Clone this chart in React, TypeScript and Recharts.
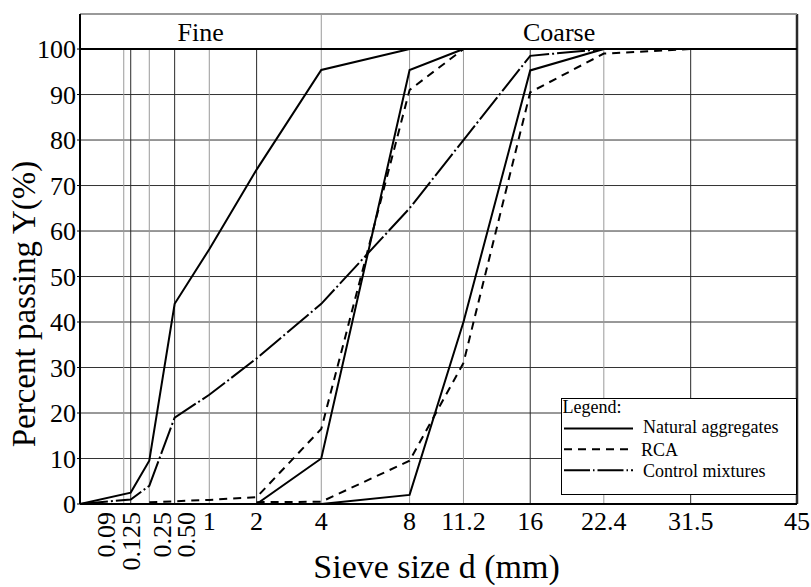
import React from 'react';
import {
  LineChart,
  Line,
  XAxis,
  YAxis,
  CartesianGrid,
  ReferenceLine,
  ReferenceArea,
  Legend,
  Label,
} from 'recharts';

// ---------- data ----------
const sieveSizes = [0.09, 0.125, 0.25, 0.5, 1, 2, 4, 8, 11.2, 16, 22.4, 31.5, 45];
const sieveLabels = ['0.09', '0.125', '0.25', '0.50', '1', '2', '4', '8', '11.2', '16', '22.4', '31.5', '45'];
const percentTicks = [0, 10, 20, 30, 40, 50, 60, 70, 80, 90, 100];

// Natural aggregates (solid)
const naturalSandSizes = [0, 0.125, 0.25, 0.5, 1, 2, 4, 8, 45];
const naturalSandPassing = [0, 2.5, 9.5, 44, 56, 73.5, 95.4, 100, 100];
const natural48Sizes = [0.25, 0.5, 1, 2, 4, 8, 11.2];
const natural48Passing = [0, 0, 0, 0, 10, 95.4, 100];
const natural816Sizes = [4, 8, 11.2, 16, 22.4];
const natural816Passing = [0, 2, 40, 95.3, 100];
const naturalBaseSizes = [0.25, 11.2];
const naturalBasePassing = [0, 0];

// RCA (dashed)
const rca48Sizes = [0.25, 0.5, 1, 2, 4, 8, 11.2];
const rca48Passing = [0.4, 0.6, 0.9, 1.5, 16.5, 91, 100];
const rca816Sizes = [2, 4, 8, 11.2, 16, 22.4, 31.5];
const rca816Passing = [0.4, 0.5, 9.5, 31, 90.5, 99, 100];

// Control mixtures (dash-dot)
const controlSizes = [0, 0.125, 0.25, 0.5, 1, 2, 4, 8, 11.2, 16, 22.4, 45];
const controlPassing = [0, 1, 4, 19, 24, 32, 44, 65, 80, 98.5, 100, 100];

const legendItems = ['Natural aggregates', 'RCA', 'Control mixtures'];
const zoneLabels = ['Fine', 'Coarse'];

// ---------- scale helpers ----------
const EXPONENT = 0.45; // grading chart axis: d^0.45
const toX = (d: number) => Math.pow(d, EXPONENT);
const X_MAX = toX(45);
const Y_TOP = 107.7;

const build = (sizes: number[], values: number[]) =>
  sizes.map((d, i) => ({ x: toX(d), y: values[i] }));

const naturalSand = build(naturalSandSizes, naturalSandPassing);
const natural48 = build(natural48Sizes, natural48Passing);
const natural816 = build(natural816Sizes, natural816Passing);
const naturalBase = build(naturalBaseSizes, naturalBasePassing);
const rca48 = build(rca48Sizes, rca48Passing);
const rca816 = build(rca816Sizes, rca816Passing);
const control = build(controlSizes, controlPassing);

const xTicks = sieveSizes.map(toX);

// ---------- styles ----------
const FONT = '"Liberation Serif", "Times New Roman", serif';
const GRAY = '#9a9a9a';
const DARK = '#2a2a2a';
const gridShade = [GRAY, DARK, GRAY, DARK, GRAY, DARK, GRAY, GRAY, GRAY, DARK, GRAY, DARK, DARK];
const rotatedDx = [-17, 1, 13, 12];
const DASH = '8 6';
const DASH_DOT = '28 3 2 3';

const SieveTick = (props: any) => {
  const { x, y, index } = props;
  const label = sieveLabels[index] ?? '';
  const size = sieveSizes[index];
  if (size < 1) {
    return (
      <text
        transform={`translate(${x + (rotatedDx[index] ?? 0)},${y}) rotate(-90)`}
        textAnchor="end"
        dominantBaseline="central"
        fontSize={26}
        fill="#000"
        fontFamily={FONT}
      >
        {label}
      </text>
    );
  }
  return (
    <text x={x} y={y} dy="0.71em" textAnchor="middle" fontSize={26} fill="#000" fontFamily={FONT}>
      {label}
    </text>
  );
};

const LegendBox = () => (
  <svg width={237} height={98} style={{ display: 'block', overflow: 'visible' }}>
    <rect x={0.5} y={0.5} width={235} height={96} fill="#fff" stroke="#000" strokeWidth={1} />
    <text x={1.5} y={15} fontSize={18} fontFamily={FONT} fill="#000">
      Legend:
    </text>
    <line x1={3} x2={72} y1={30.6} y2={30.6} stroke="#000" strokeWidth={2} />
    <text x={82} y={34.6} fontSize={18} fontFamily={FONT} fill="#000">
      {legendItems[0]}
    </text>
    <line x1={3} x2={72} y1={51.3} y2={51.3} stroke="#000" strokeWidth={2} strokeDasharray={DASH} />
    <text x={80} y={58} fontSize={18} fontFamily={FONT} fill="#000">
      {legendItems[1]}
    </text>
    <line x1={3} x2={72} y1={72.3} y2={72.3} stroke="#000" strokeWidth={2} strokeDasharray="26 3 1.5 3" />
    <text x={82} y={79} fontSize={18} fontFamily={FONT} fill="#000">
      {legendItems[2]}
    </text>
  </svg>
);

const YTitle = (props: any) => {
  const vb = props.viewBox || { x: 20, y: 14, width: 60, height: 490 };
  const cx = vb.x + 15;
  const cy = vb.y + 290;
  return (
    <text
      transform={`translate(${cx},${cy}) rotate(-90)`}
      textAnchor="middle"
      fontSize={33}
      fill="#000"
      fontFamily={FONT}
    >
      Percent passing Y(%)
    </text>
  );
};

const XTitle = (props: any) => {
  const vb = props.viewBox || { x: 80, y: 504, width: 717, height: 83 };
  return (
    <text
      x={vb.x + vb.width / 2 - 2}
      y={vb.y + 74}
      textAnchor="middle"
      fontSize={34}
      fill="#000"
      fontFamily={FONT}
    >
      Sieve size d (mm)
    </text>
  );
};

const lineCommon = {
  dataKey: 'y',
  type: 'linear' as const,
  stroke: '#000',
  strokeWidth: 2,
  dot: false,
  activeDot: false,
  isAnimationActive: false,
  legendType: 'none' as const,
};

export default function App() {
  return (
    <div style={{ position: 'absolute', left: 0, top: 0, width: 811, height: 587, background: '#fff', fontFamily: FONT }}>
      <LineChart width={811} height={587} margin={{ top: 14, right: 14, bottom: 0, left: 20 }}>
        <CartesianGrid vertical={false} stroke="#333" strokeWidth={1} />
        <XAxis
          type="number"
          dataKey="x"
          domain={[0, X_MAX]}
          ticks={xTicks}
          interval={0}
          height={83}
          tick={<SieveTick />}
          tickLine={false}
          tickSize={6}
          tickMargin={2}
          axisLine={{ stroke: '#000', strokeWidth: 2 }}
          allowDataOverflow
        >
          <Label content={<XTitle />} />
        </XAxis>
        <YAxis
          type="number"
          domain={[0, Y_TOP]}
          ticks={percentTicks}
          interval={0}
          width={60}
          tickSize={3}
          tickMargin={1}
          tick={{ fontSize: 26, fill: '#000', fontFamily: FONT }}
          tickLine={{ stroke: '#000' }}
          axisLine={{ stroke: '#000', strokeWidth: 2 }}
          allowDataOverflow
        >
          <Label content={<YTitle />} />
        </YAxis>

        {/* header band: Fine / Coarse */}
        <ReferenceArea
          x1={0}
          x2={toX(4)}
          y1={100}
          y2={Y_TOP}
          fill="none"
          strokeOpacity={0}
          label={{ value: zoneLabels[0], position: 'center', fontSize: 26, fill: '#000', fontFamily: FONT }}
        />
        <ReferenceArea
          x1={toX(4)}
          x2={X_MAX}
          y1={100}
          y2={Y_TOP}
          fill="none"
          strokeOpacity={0}
          label={{ value: zoneLabels[1], position: 'center', fontSize: 26, fill: '#000', fontFamily: FONT }}
        />

        {/* vertical grid lines */}
        {sieveSizes.map((d, i) => {
          const full = d === 4 || d === 45;
          return (
            <ReferenceLine
              key={`g${i}`}
              segment={[
                { x: toX(d), y: 0 },
                { x: toX(d), y: full ? Y_TOP : 100 },
              ]}
              stroke={d === 45 ? DARK : gridShade[i]}
              strokeWidth={d === 45 ? 2.5 : 1}
            />
          );
        })}
        <ReferenceLine
          segment={[
            { x: 0, y: Y_TOP },
            { x: X_MAX, y: Y_TOP },
          ]}
          stroke={GRAY}
          strokeWidth={1.5}
        />
        <ReferenceLine y={100} stroke="#000" strokeWidth={2} />

        {/* Natural aggregates */}
        <Line {...lineCommon} data={naturalSand} />
        <Line {...lineCommon} data={natural48} />
        <Line {...lineCommon} data={natural816} />
        <Line {...lineCommon} data={naturalBase} />
        {/* RCA */}
        <Line {...lineCommon} data={rca48} strokeDasharray={DASH} />
        <Line {...lineCommon} data={rca816} strokeDasharray={DASH} />
        {/* Control mixtures */}
        <Line {...lineCommon} data={control} strokeDasharray={DASH_DOT} />

        <Legend
          layout="horizontal"
          verticalAlign="middle"
          align="center"
          content={<LegendBox />}
          wrapperStyle={{ position: 'absolute', left: 561, top: 398, width: 237, height: 98 }}
        />
      </LineChart>
    </div>
  );
}
